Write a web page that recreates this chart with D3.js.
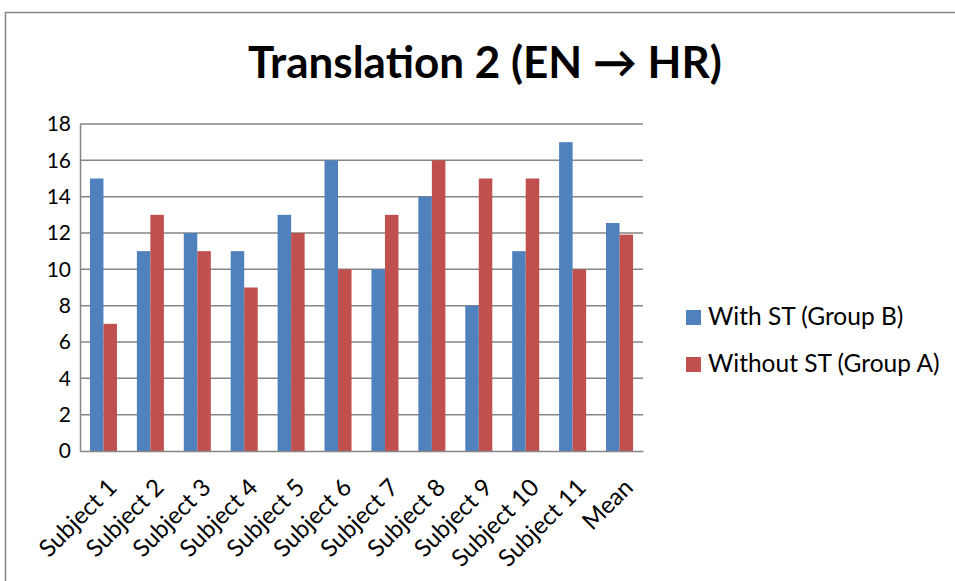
<!DOCTYPE html>
<html><head><meta charset="utf-8">
<script src="https://cdn.jsdelivr.net/npm/d3@7/dist/d3.min.js"></script>
<style>
body{margin:0;background:#fff;}
svg{display:block;font-family:Lato, "Open Sans", sans-serif;}
</style></head>
<body>
<svg id="chart" width="955" height="581"></svg>
<script>
const categories = ["Subject 1","Subject 2","Subject 3","Subject 4","Subject 5","Subject 6","Subject 7","Subject 8","Subject 9","Subject 10","Subject 11","Mean"];
const seriesNames = ["With ST (Group B)","Without ST (Group A)"];
const withST = [15,11,12,11,13,16,10,14,8,11,17,12.55];
const withoutST = [7,13,11,9,12,10,13,16,15,15,10,11.91];
const yTicks = [0,2,4,6,8,10,12,14,16,18];
const colors = ["#4F81BD","#C0504D"];
const title = "Translation 2 (EN \u2192 HR)";

const svg = d3.select("#chart");
const m = {left:80, right:643, top:124, bottom:451};

svg.append("rect").attr("x",5.5).attr("y",12.5).attr("width",1000).attr("height",1000)
  .attr("fill","none").attr("stroke","#868686").attr("stroke-width",1.5);

svg.append("text").attr("x",485).attr("y",78).attr("text-anchor","middle")
  .attr("font-size",44).attr("font-weight","bold").attr("fill","#000").text(title);

const x = d3.scaleBand().domain(categories).range([m.left,m.right]);
const y = d3.scaleLinear().domain([0,18]).range([m.bottom,m.top]);
const barW = x.bandwidth()*0.288;
const x1 = d3.scaleBand().domain([0,1]).range([0,barW*2]);

// gridlines
svg.append("g").selectAll("line").data(yTicks.slice(1)).join("line")
  .attr("x1",m.left).attr("x2",m.right).attr("y1",d=>y(d)).attr("y2",d=>y(d))
  .attr("stroke","#868686").attr("stroke-width",1.5);

const data = categories.map((c,i)=>({c, vals:[withST[i],withoutST[i]]}));
const groups = svg.append("g").selectAll("g").data(data).join("g")
  .attr("transform",d=>`translate(${x(d.c)+(x.bandwidth()-barW*2)/2},0)`);
groups.selectAll("rect").data(d=>d.vals.map((v,k)=>({v,k}))).join("rect")
  .attr("x",d=>x1(d.k)).attr("width",x1.bandwidth())
  .attr("y",d=>y(d.v)).attr("height",d=>y(0)-y(d.v))
  .attr("fill",d=>colors[d.k]);

// axes
const yAxis = svg.append("g").attr("transform",`translate(${m.left},0)`)
  .call(d3.axisLeft(y).tickValues(yTicks).tickSize(0).tickPadding(9));
yAxis.select(".domain").attr("stroke","#868686").attr("stroke-width",1.5);
yAxis.selectAll("text").attr("font-size",21).attr("fill","#000").attr("font-family","Lato");

const xAxis = svg.append("g").attr("transform",`translate(0,${m.bottom})`)
  .call(d3.axisBottom(x).tickSize(0));
xAxis.select(".domain").attr("stroke","#868686").attr("stroke-width",1.5);
xAxis.selectAll("text").attr("font-size",24).attr("fill","#000").attr("font-family","Lato")
  .attr("text-anchor","end").attr("dy",0).attr("y",0)
  .attr("transform","translate(15,38) rotate(-45)");

// legend
const leg = svg.append("g");
seriesNames.forEach((s,i)=>{
  const base = 325 + i*47;
  leg.append("rect").attr("x",686).attr("y",base-15).attr("width",15).attr("height",15).attr("fill",colors[i]);
  leg.append("text").attr("x",708).attr("y",base).attr("font-size",24.5).attr("fill","#000").text(s);
});
</script>
</body></html>
